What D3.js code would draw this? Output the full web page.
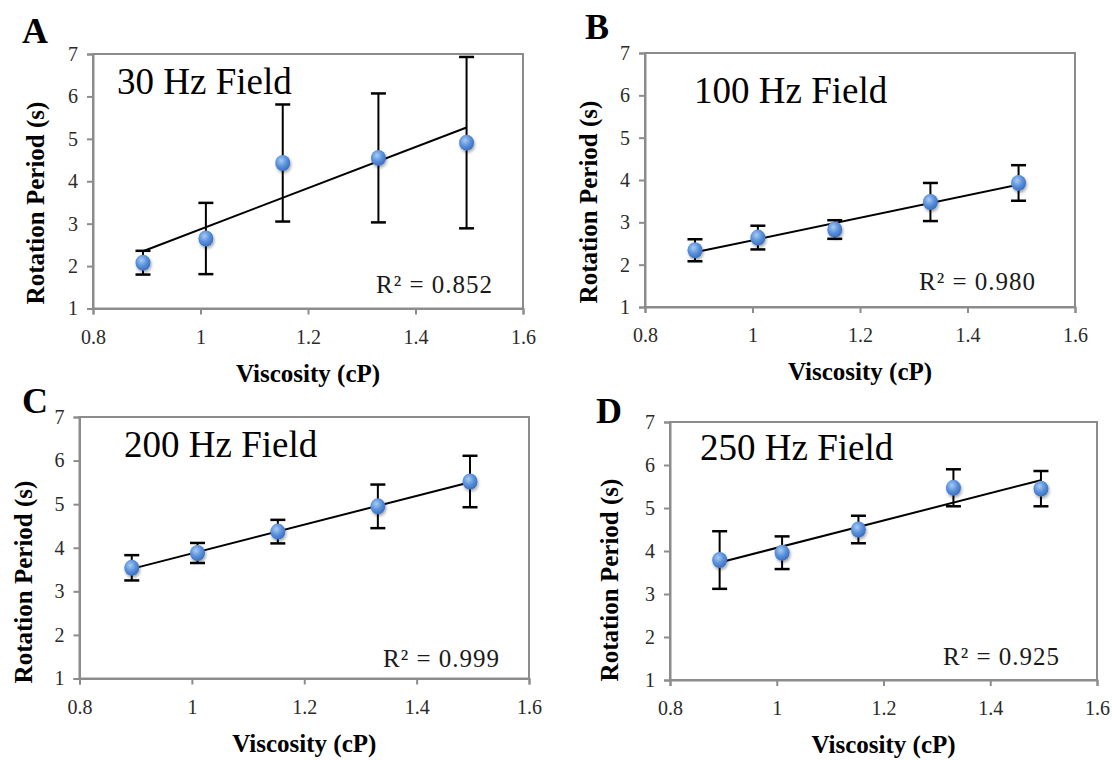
<!DOCTYPE html>
<html>
<head>
<meta charset="utf-8">
<script src="https://cdn.jsdelivr.net/npm/d3@7/dist/d3.min.js"></script>
<style>
  body { margin: 0; background: #fff; }
  svg text { font-family: "Liberation Serif", "Times New Roman", serif; }
</style>
</head>
<body>
<svg id="chart" width="1112" height="760"></svg>
<script>
// viscosity of the five fluids (cP), shared by all panels
const viscosity = [0.893, 1.01, 1.153, 1.331, 1.495];

// mean rotation period (s) and error bar half-size, one pair per field
const period30 = [2.08, 2.65, 4.43, 4.55, 4.91];
const err30 = [0.28, 0.84, 1.38, 1.52, 2.02];
const period100 = [2.34, 2.64, 2.83, 3.48, 3.93];
const err100 = [0.26, 0.28, 0.22, 0.45, 0.42];
const period200 = [3.54, 3.88, 4.37, 4.95, 5.52];
const err200 = [0.29, 0.23, 0.27, 0.50, 0.59];
const period250 = [3.79, 3.96, 4.50, 5.47, 5.45];
const err250 = [0.67, 0.38, 0.32, 0.43, 0.41];

const panelLetters = ["A", "B", "C", "D"];
const fieldLabels = ["30 Hz Field", "100 Hz Field", "200 Hz Field", "250 Hz Field"];
const r2Labels = ["0.852", "0.980", "0.999", "0.925"];
const xTicks = [0.8, 1, 1.2, 1.4, 1.6];
const yTicks = [1, 2, 3, 4, 5, 6, 7];

const periods = [period30, period100, period200, period250];
const errors = [err30, err100, err200, err250];

// where each panel sits on the page
const layout = [
  { left: 93, right: 523, top: 54, bottom: 308.5, letter: [22, 43], title: [117, 94], r2: [493, 293], yLab: [36, 203] },
  { left: 645, right: 1075, top: 53, bottom: 307, letter: [585, 39], title: [694, 103], r2: [1036, 290], yLab: [589, 202] },
  { left: 79.5, right: 529, top: 417, bottom: 678.5, letter: [22, 413], title: [124, 457], r2: [500, 667], yLab: [24, 582] },
  { left: 670, right: 1097, top: 422, bottom: 680, letter: [596, 423], title: [700, 460], r2: [1060, 665], yLab: [610, 580] }
];

const svg = d3.select("#chart");
const defs = svg.append("defs");

const grad = defs.append("radialGradient")
  .attr("id", "dot")
  .attr("cx", "40%").attr("cy", "35%").attr("r", "65%");
grad.append("stop").attr("offset", "0%").attr("stop-color", "#a9cbf3");
grad.append("stop").attr("offset", "55%").attr("stop-color", "#5b92dc");
grad.append("stop").attr("offset", "100%").attr("stop-color", "#3b6fbe");

const shadow = defs.append("filter")
  .attr("id", "shadow")
  .attr("x", "-50%").attr("y", "-50%").attr("width", "200%").attr("height", "200%");
shadow.append("feDropShadow")
  .attr("dx", 1).attr("dy", 2).attr("stdDeviation", 1.6)
  .attr("flood-color", "#000").attr("flood-opacity", 0.35);

// least squares line, same as the spreadsheet trendline
function fitLine(xs, ys) {
  const mx = d3.mean(xs), my = d3.mean(ys);
  const sxy = d3.sum(xs, (x, i) => (x - mx) * (ys[i] - my));
  const sxx = d3.sum(xs, x => (x - mx) * (x - mx));
  const slope = sxy / sxx;
  return x => my + slope * (x - mx);
}

layout.forEach((box, p) => {
  const x = d3.scaleLinear().domain([0.8, 1.6]).range([box.left, box.right]);
  const y = d3.scaleLinear().domain([1, 7]).range([box.bottom, box.top]);
  const g = svg.append("g");

  const pts = viscosity.map((v, i) => ({ v: v, t: periods[p][i], e: errors[p][i] }));

  // frame
  g.append("rect")
    .attr("x", box.left).attr("y", box.top)
    .attr("width", box.right - box.left).attr("height", box.bottom - box.top)
    .attr("fill", "none").attr("stroke", "#8c8c8c").attr("stroke-width", 2);

  const yAxis = g.append("g")
    .attr("transform", `translate(${box.left},0)`)
    .call(d3.axisLeft(y).tickValues(yTicks).tickSize(6).tickPadding(9).tickFormat(d3.format("d")));
  const xAxis = g.append("g")
    .attr("transform", `translate(0,${box.bottom})`)
    .call(d3.axisBottom(x).tickValues(xTicks).tickSize(6).tickPadding(15).tickFormat(d => String(d)));

  [yAxis, xAxis].forEach(ax => {
    ax.select(".domain").attr("stroke", "#8c8c8c").attr("stroke-width", 2);
    ax.selectAll(".tick line").attr("stroke", "#8c8c8c").attr("stroke-width", 2);
    ax.selectAll(".tick text")
      .attr("fill", "#2a2a2a")
      .style("font-size", "20px")
      .style("font-family", "'Liberation Serif', serif");
  });

  // trendline
  const f = fitLine(viscosity, periods[p]);
  const x0 = d3.min(viscosity), x1 = d3.max(viscosity);
  g.append("line")
    .attr("x1", x(x0)).attr("y1", y(f(x0)))
    .attr("x2", x(x1)).attr("y2", y(f(x1)))
    .attr("stroke", "#000").attr("stroke-width", 2);

  // error bars
  const bars = g.selectAll(".err").data(pts).enter().append("g").attr("class", "err");
  bars.append("line")
    .attr("x1", d => x(d.v)).attr("x2", d => x(d.v))
    .attr("y1", d => y(d.t - d.e)).attr("y2", d => y(d.t + d.e))
    .attr("stroke", "#000").attr("stroke-width", 2);
  bars.append("line")
    .attr("x1", d => x(d.v) - 7.5).attr("x2", d => x(d.v) + 7.5)
    .attr("y1", d => y(d.t + d.e)).attr("y2", d => y(d.t + d.e))
    .attr("stroke", "#000").attr("stroke-width", 2.5);
  bars.append("line")
    .attr("x1", d => x(d.v) - 7.5).attr("x2", d => x(d.v) + 7.5)
    .attr("y1", d => y(d.t - d.e)).attr("y2", d => y(d.t - d.e))
    .attr("stroke", "#000").attr("stroke-width", 2.5);

  // markers
  g.selectAll(".dot").data(pts).enter().append("ellipse")
    .attr("class", "dot")
    .attr("cx", d => x(d.v)).attr("cy", d => y(d.t))
    .attr("rx", 7.5).attr("ry", 8)
    .attr("fill", "url(#dot)")
    .attr("filter", "url(#shadow)");

  // texts
  g.append("text")
    .attr("x", box.letter[0]).attr("y", box.letter[1])
    .attr("font-size", 36).attr("font-weight", "bold")
    .text(panelLetters[p]);

  g.append("text")
    .attr("x", box.title[0]).attr("y", box.title[1])
    .attr("font-size", 37)
    .text(fieldLabels[p]);

  g.append("text")
    .attr("x", box.r2[0]).attr("y", box.r2[1])
    .attr("text-anchor", "end")
    .attr("font-size", 25)
    .attr("letter-spacing", 1)
    .attr("fill", "#1a1a1a")
    .text("R\u00b2 = " + r2Labels[p]);

  g.append("text")
    .attr("transform", `translate(${box.yLab[0] + 8},${box.yLab[1]}) rotate(-90)`)
    .attr("text-anchor", "middle")
    .attr("font-size", 25).attr("font-weight", "bold")
    .text("Rotation Period (s)");

  g.append("text")
    .attr("x", (box.left + box.right) / 2).attr("y", box.bottom + 73)
    .attr("text-anchor", "middle")
    .attr("font-size", 25).attr("font-weight", "bold")
    .text("Viscosity (cP)");
});
</script>
</body>
</html>
